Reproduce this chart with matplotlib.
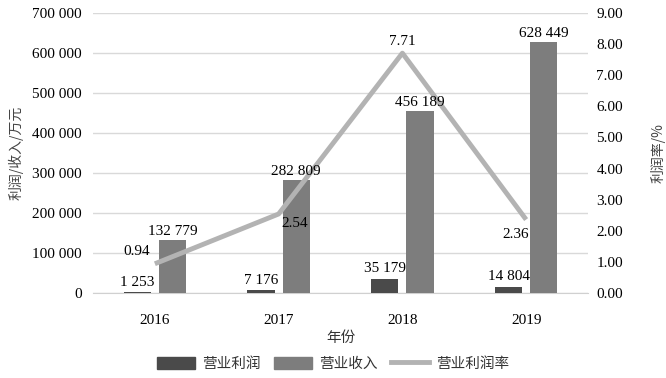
import matplotlib
matplotlib.use("Agg")
import matplotlib.pyplot as plt
import numpy as np
from matplotlib.patches import Patch
from matplotlib.lines import Line2D

years = ["2016", "2017", "2018", "2019"]
profit = [1253, 7176, 35179, 14804]
revenue = [132779, 282809, 456189, 628449]
rate = [0.94, 2.54, 7.71, 2.36]

profit_labels = ["1 253", "7 176", "35 179", "14 804"]
revenue_labels = ["132 779", "282 809", "456 189", "628 449"]
rate_labels = ["0.94", "2.54", "7.71", "2.36"]

serif = ["Liberation Serif", "DejaVu Serif"]
cjk = ["Noto Sans CJK SC", "DejaVu Sans"]

fig = plt.figure(figsize=(6.66, 3.78), dpi=100)
ax = fig.add_axes([93/666, 1-293/378, (588-93)/666, 280/378])
ax2 = ax.twinx()

x = np.arange(len(years))
w = 0.22
off = 0.142
c_profit = "#4a4a4a"
c_rev = "#7d7d7d"
c_line = "#b3b3b3"

ax.bar(x - off, profit, width=w, color=c_profit, zorder=3)
ax.bar(x + off, revenue, width=w, color=c_rev, zorder=3)
ax.set_ylim(0, 700000)
ax.set_xlim(-0.5, 3.5)
yt = np.arange(0, 700001, 100000)
ax.set_yticks(yt)
ax.set_yticklabels(["0" if v == 0 else f"{v//1000} 000" for v in yt], fontfamily=serif, fontsize=11)
ax.set_xticks(x)
ax.set_xticklabels(years, fontfamily=serif, fontsize=11)
ax.grid(axis="y", color="#d9d9d9", linewidth=1.0, zorder=0)
ax.tick_params(length=0, pad=8)
ax.tick_params(axis="x", pad=15)
for s in ax.spines.values():
    s.set_visible(False)
ax.spines["bottom"].set_visible(True)
ax.spines["bottom"].set_color("#d0d0d0")

ax2.plot(x, rate, color=c_line, linewidth=3.5, zorder=4, solid_capstyle="butt")
ax2.set_ylim(0, 9)
rt = np.arange(0, 9.01, 1)
ax2.set_yticks(rt)
ax2.set_yticklabels([f"{v:.2f}" for v in rt], fontfamily=serif, fontsize=11)
ax2.tick_params(length=0, pad=6)
for s in ax2.spines.values():
    s.set_visible(False)

# bar labels drawn on top axes so they sit above the line
for i in range(4):
    ax2.text(x[i] - off, profit[i] + 9000, profit_labels[i], ha="center", va="bottom",
             fontfamily=serif, fontsize=11, zorder=6, transform=ax.transData)
    ax2.text(x[i] + off, revenue[i] + 5000, revenue_labels[i], ha="center", va="bottom",
             fontfamily=serif, fontsize=11, zorder=6, transform=ax.transData)

# rate labels
ax2.text(x[0] - 0.04, rate[0] + 0.2, rate_labels[0], ha="right", va="bottom", fontfamily=serif, fontsize=11, zorder=6)
ax2.text(x[1] + 0.02, rate[1] - 0.1, rate_labels[1], ha="left", va="top", fontfamily=serif, fontsize=11, zorder=6)
ax2.text(x[2], rate[2] + 0.15, rate_labels[2], ha="center", va="bottom", fontfamily=serif, fontsize=11, zorder=6)
ax2.text(x[3] + 0.02, rate[3] - 0.28, rate_labels[3], ha="right", va="top", fontfamily=serif, fontsize=11, zorder=6)

ax.set_ylabel("利润/收入/万元", fontfamily=cjk, fontsize=10, color="#444444", labelpad=6)
ax2.set_ylabel("利润率/%", fontfamily=cjk, fontsize=10, color="#444444", labelpad=20)
ax.set_xlabel("年份", fontfamily=cjk, fontsize=10.5, color="#333333", labelpad=3)

handles = [Patch(color=c_profit), Patch(color=c_rev), Line2D([], [], color=c_line, linewidth=3.5)]
leg = fig.legend(handles, ["营业利润", "营业收入", "营业利润率"], loc="center", bbox_to_anchor=(0.5, 1-364/378),
                 ncol=3, frameon=False, prop={"family": cjk, "size": 10.5}, handlelength=2.6, handleheight=0.9,
                 columnspacing=0.9, handletextpad=0.5)
for t in leg.get_texts():
    t.set_color("#333333")

fig.savefig("out.png", dpi=100)
